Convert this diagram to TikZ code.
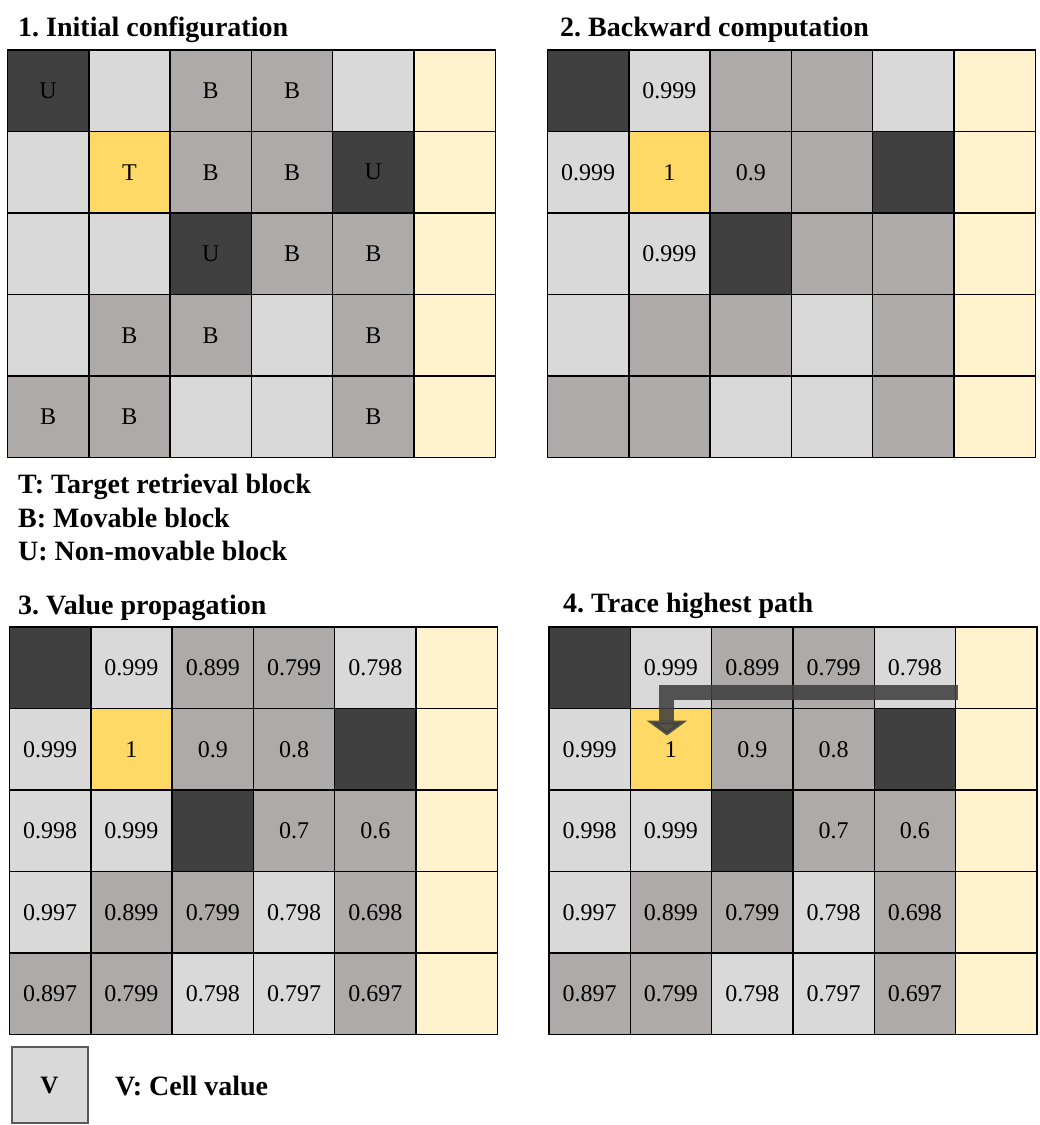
\documentclass[tikz,border=0pt]{standalone}
\usepackage{fontspec}
\setmainfont{Liberation Serif}
\usepackage{tikz}
\usetikzlibrary{arrows.meta}
\frenchspacing

\definecolor{cellU}{HTML}{404040}
\definecolor{cellB}{HTML}{AEAAAA}
\definecolor{cellE}{HTML}{D9D9D9}
\definecolor{cellT}{HTML}{FFD966}
\definecolor{cellX}{HTML}{FFF2CC}

\tikzset{
  cell/.style={draw=black, line width=1.4pt, minimum width=81.3pt, minimum height=81.5pt,
    inner sep=0pt, outer sep=0pt, font=\fontsize{24}{28}\selectfont},
  U/.style={cell, fill=cellU},
  B/.style={cell, fill=cellB},
  E/.style={cell, fill=cellE},
  T/.style={cell, fill=cellT},
  X/.style={cell, fill=cellX},
  title/.style={anchor=base west, inner sep=0pt, font=\bfseries\fontsize{28}{32}\selectfont},
}

% one grid: name, x0, y0, rows of type/text
\newcommand{\cellgrid}[4]{
  \foreach \rowlist [count=\r] in {#4} {
    \foreach \t/\v [count=\c] in \rowlist {
      \node[\t] (#1-\r-\c) at ({#2+(\c-0.5)*81.3},{#3+(\r-0.5)*81.5}) {\v};
    }
  }
}

\begin{document}
\begin{tikzpicture}[x=1pt, y=-1pt]
  \useasboundingbox (0,0) rectangle (1040,1125);

  % 1. initial configuration
  \node[title] (t1) at (18,36) {1. Initial configuration};
  \cellgrid{ga}{7.5}{50}{
    {U/U,E/,B/B,B/B,E/,X/},
    {E/,T/T,B/B,B/B,U/U,X/},
    {E/,E/,U/U,B/B,B/B,X/},
    {E/,B/B,B/B,E/,B/B,X/},
    {B/B,B/B,E/,E/,B/B,X/}}

  % 2. backward computation
  \node[title] (t2) at (560,36) {2. Backward computation};
  \cellgrid{gb}{547.5}{50}{
    {U/,E/0.999,B/,B/,E/,X/},
    {E/0.999,T/1,B/0.9,B/,U/,X/},
    {E/,E/0.999,U/,B/,B/,X/},
    {E/,B/,B/,E/,B/,X/},
    {B/,B/,E/,E/,B/,X/}}

  % legend
  \node[title] (l1) at (18,493) {T: Target retrieval block};
  \node[title] (l2) at (18,527) {B: Movable block};
  \node[title] (l3) at (18,560) {U: Non-movable block};

  % 3. value propagation
  \node[title] (t3) at (18,614) {3. Value propagation};
  \cellgrid{gc}{9.5}{627}{
    {U/,E/0.999,B/0.899,B/0.799,E/0.798,X/},
    {E/0.999,T/1,B/0.9,B/0.8,U/,X/},
    {E/0.998,E/0.999,U/,B/0.7,B/0.6,X/},
    {E/0.997,B/0.899,B/0.799,E/0.798,B/0.698,X/},
    {B/0.897,B/0.799,E/0.798,E/0.797,B/0.697,X/}}

  % 4. trace highest path
  \node[title] (t4) at (563,612) {4. Trace highest path};
  \cellgrid{gd}{549}{627}{
    {U/,E/0.999,B/0.899,B/0.799,E/0.798,X/},
    {E/0.999,T/1,B/0.9,B/0.8,U/,X/},
    {E/0.998,E/0.999,U/,B/0.7,B/0.6,X/},
    {E/0.997,B/0.899,B/0.799,E/0.798,B/0.698,X/},
    {B/0.897,B/0.799,E/0.798,E/0.797,B/0.697,X/}}
  \coordinate (p0) at ([xshift=2pt,yshift=-25pt]gd-1-5.east);
  \coordinate (p1) at ([xshift=-4pt]gd-1-2.center |- p0);
  \coordinate (p2) at ([xshift=-4pt,yshift=-27pt]gd-2-2.north);
  \draw[line width=15pt, draw=cellU, opacity=0.88, miter limit=10,
    -{Triangle[width=40pt,length=15pt]}] (p0) -- (p1) -- (p2);

  % cell value key
  \node[E, draw=black!65, line width=2pt, minimum width=76pt, minimum height=76pt,
    font=\bfseries\fontsize{25}{28}\selectfont] (key) at (49.5,1085) {V};
  \node[title] (keytext) at (115,1095) {V: Cell value};
\end{tikzpicture}
\end{document}
